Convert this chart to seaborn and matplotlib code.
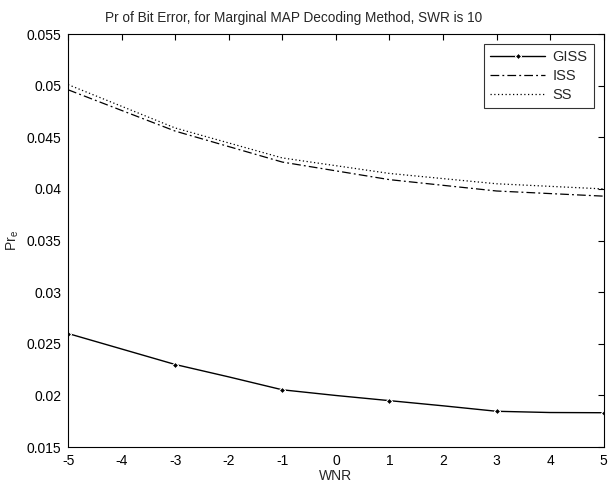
import matplotlib
matplotlib.use("Agg")
import matplotlib.pyplot as plt
import seaborn as sns
import pandas as pd

# Data
wnr_giss = [-5, -4, -3, -2, -1, 0, 1, 2, 3, 4, 5]
giss = [0.0260, 0.0245, 0.0230, 0.0218, 0.02055, 0.0200, 0.0195, 0.0190, 0.01847, 0.01835, 0.01833]
wnr = [-5, -3, -1, 1, 3, 5]
iss = [0.0496, 0.0456, 0.0426, 0.0409, 0.0398, 0.0393]
ss = [0.0501, 0.0459, 0.0430, 0.0415, 0.0405, 0.0400]
xticks = list(range(-5, 6))
yticks = [0.015, 0.02, 0.025, 0.03, 0.035, 0.04, 0.045, 0.05, 0.055]
ytick_labels = ["0.015", "0.02", "0.025", "0.03", "0.035", "0.04", "0.045", "0.05", "0.055"]

sns.set_style("white")
plt.rcParams["font.family"] = ["Liberation Sans", "DejaVu Sans"]
plt.rcParams["mathtext.default"] = "regular"

df_g = pd.DataFrame({"WNR": wnr_giss, "Pr": giss})
df_i = pd.DataFrame({"WNR": wnr, "Pr": iss})
df_s = pd.DataFrame({"WNR": wnr, "Pr": ss})

fig = plt.figure(figsize=(6.08, 4.86), dpi=100)
ax = fig.add_axes([0.112, 0.080, 0.881, 0.850])

sns.lineplot(data=df_g, x="WNR", y="Pr", ax=ax, color="black", lw=1.0,
             marker="D", markersize=3.2, markevery=2, label="GISS")
sns.lineplot(data=df_i, x="WNR", y="Pr", ax=ax, color="black", lw=0.9,
             linestyle=(0, (7, 2.5, 1.5, 2.5)), label="ISS")
sns.lineplot(data=df_s, x="WNR", y="Pr", ax=ax, color="black", lw=0.9,
             linestyle=(0, (1, 2)), label="SS")

ax.set_xlim(-5, 5)
ax.set_ylim(0.015, 0.055)
ax.set_xticks(xticks)
ax.set_xticklabels([str(t) for t in xticks])
ax.set_yticks(yticks)
ax.set_yticklabels(ytick_labels)
ax.tick_params(direction="in", length=4, width=0.8, top=True, right=True,
               labelsize=10, colors="black", pad=5)
for s in ax.spines.values():
    s.set_visible(True)
    s.set_color("black")
    s.set_linewidth(0.8)

fig.text(294 / 608, 1 - 18 / 486,
         "Pr of Bit Error, for Marginal MAP Decoding Method, SWR is 10",
         fontsize=9.8, ha="center", va="center")
ax.set_xlabel("WNR", fontsize=10, labelpad=1)
ax.set_ylabel("Pr$_e$", fontsize=10, labelpad=4)

leg = ax.legend(loc="upper right", fontsize=10.5, frameon=True, fancybox=False,
                edgecolor="black", handlelength=3.8, borderaxespad=0.7,
                labelspacing=0.35, handletextpad=0.5)
leg.get_frame().set_linewidth(0.8)

fig.savefig("out.png", dpi=100)
